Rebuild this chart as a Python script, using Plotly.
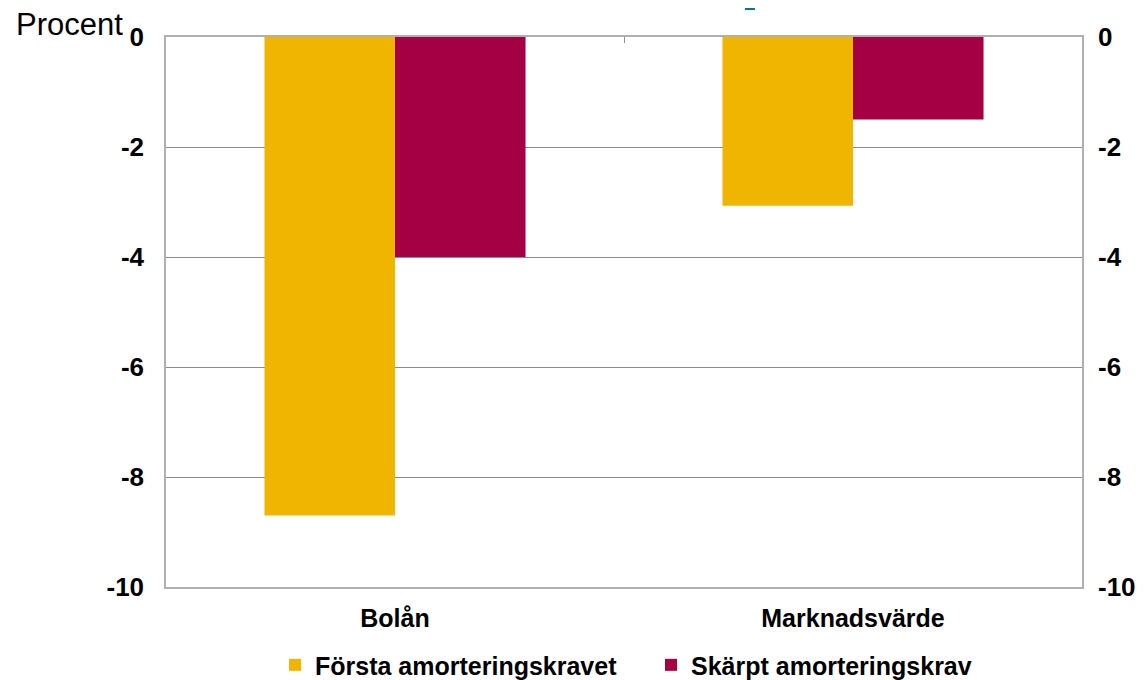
import plotly.graph_objects as go

categories = ["Bolån", "Marknadsvärde"]
series_names = ["Första amorteringskravet", "Skärpt amorteringskrav"]
forsta = [-8.7, -3.07]
skarpt = [-4.0, -1.5]
y_ticks = [0, -2, -4, -6, -8, -10]

YELLOW = "#F0B500"
RED = "#A60044"
GRID = "#8c8c8c"
FRAME = "#b0b0b0"
FONT = "Liberation Sans, Arial, sans-serif"

fig = go.Figure()
fig.add_trace(go.Bar(x=categories, y=forsta, name=series_names[0],
                     marker=dict(color=YELLOW, line=dict(width=0))))
fig.add_trace(go.Bar(x=categories, y=skarpt, name=series_names[1],
                     marker=dict(color=RED, line=dict(width=0))))
# invisible helper trace so the secondary (right/top) axes render
fig.add_trace(go.Scatter(x=[0, 1], y=skarpt, xaxis="x2", yaxis="y2", mode="markers",
                         marker=dict(opacity=0), showlegend=False, hoverinfo="skip"))

tick_font = dict(family=FONT, size=26, color="black", weight="bold")

fig.update_layout(
    width=1144, height=680,
    margin=dict(l=158, r=70, t=29, b=101, autoexpand=False),
    paper_bgcolor="white", plot_bgcolor="white",
    barmode="group", bargap=0.43, bargroupgap=0,
    font=dict(family=FONT, color="black"),
    showlegend=True,
    legend=dict(orientation="h", x=0.119, xanchor="left", y=-0.142, yanchor="middle",
                font=dict(family=FONT, size=25, color="black", weight="bold"),
                tracegroupgap=0, entrywidth=331, entrywidthmode="pixels"),
    xaxis=dict(type="category", categoryorder="array", categoryarray=categories,
               showline=True, linecolor=FRAME, linewidth=1.5, mirror=True,
               ticks="", showgrid=False,
               tickfont=dict(family=FONT, size=25, color="black", weight="bold"),
               ticklabelstandoff=8),
    xaxis2=dict(overlaying="x", side="top", range=[-0.5, 1.5], tickvals=[0.5],
                ticks="inside", ticklen=6, tickcolor=GRID, showticklabels=False,
                showgrid=False, showline=False, zeroline=False),
    yaxis=dict(range=[-10, 0], tickvals=y_ticks, ticktext=[str(v) for v in y_ticks],
               showgrid=True, gridcolor=GRID, gridwidth=1, zeroline=False,
               showline=True, linecolor=FRAME, linewidth=1.5, mirror=True,
               ticks="", tickfont=tick_font, ticklabelstandoff=15),
    yaxis2=dict(overlaying="y", side="right", range=[-10, 0], tickvals=y_ticks,
                ticktext=[str(v) for v in y_ticks], showgrid=False, zeroline=False,
                showline=False, ticks="", tickfont=tick_font, ticklabelstandoff=15),
    annotations=[dict(text="Procent", xref="paper", yref="paper", x=-0.166, y=1.0236,
                      xanchor="left", yanchor="middle", showarrow=False,
                      font=dict(family=FONT, size=31, color="black"))],
    shapes=[dict(type="rect", xref="paper", yref="paper", x0=0.632, x1=0.643,
                 y0=1.049, y1=1.08, fillcolor="#007A8A", line=dict(width=0))],
)

fig.write_html("out.html")
